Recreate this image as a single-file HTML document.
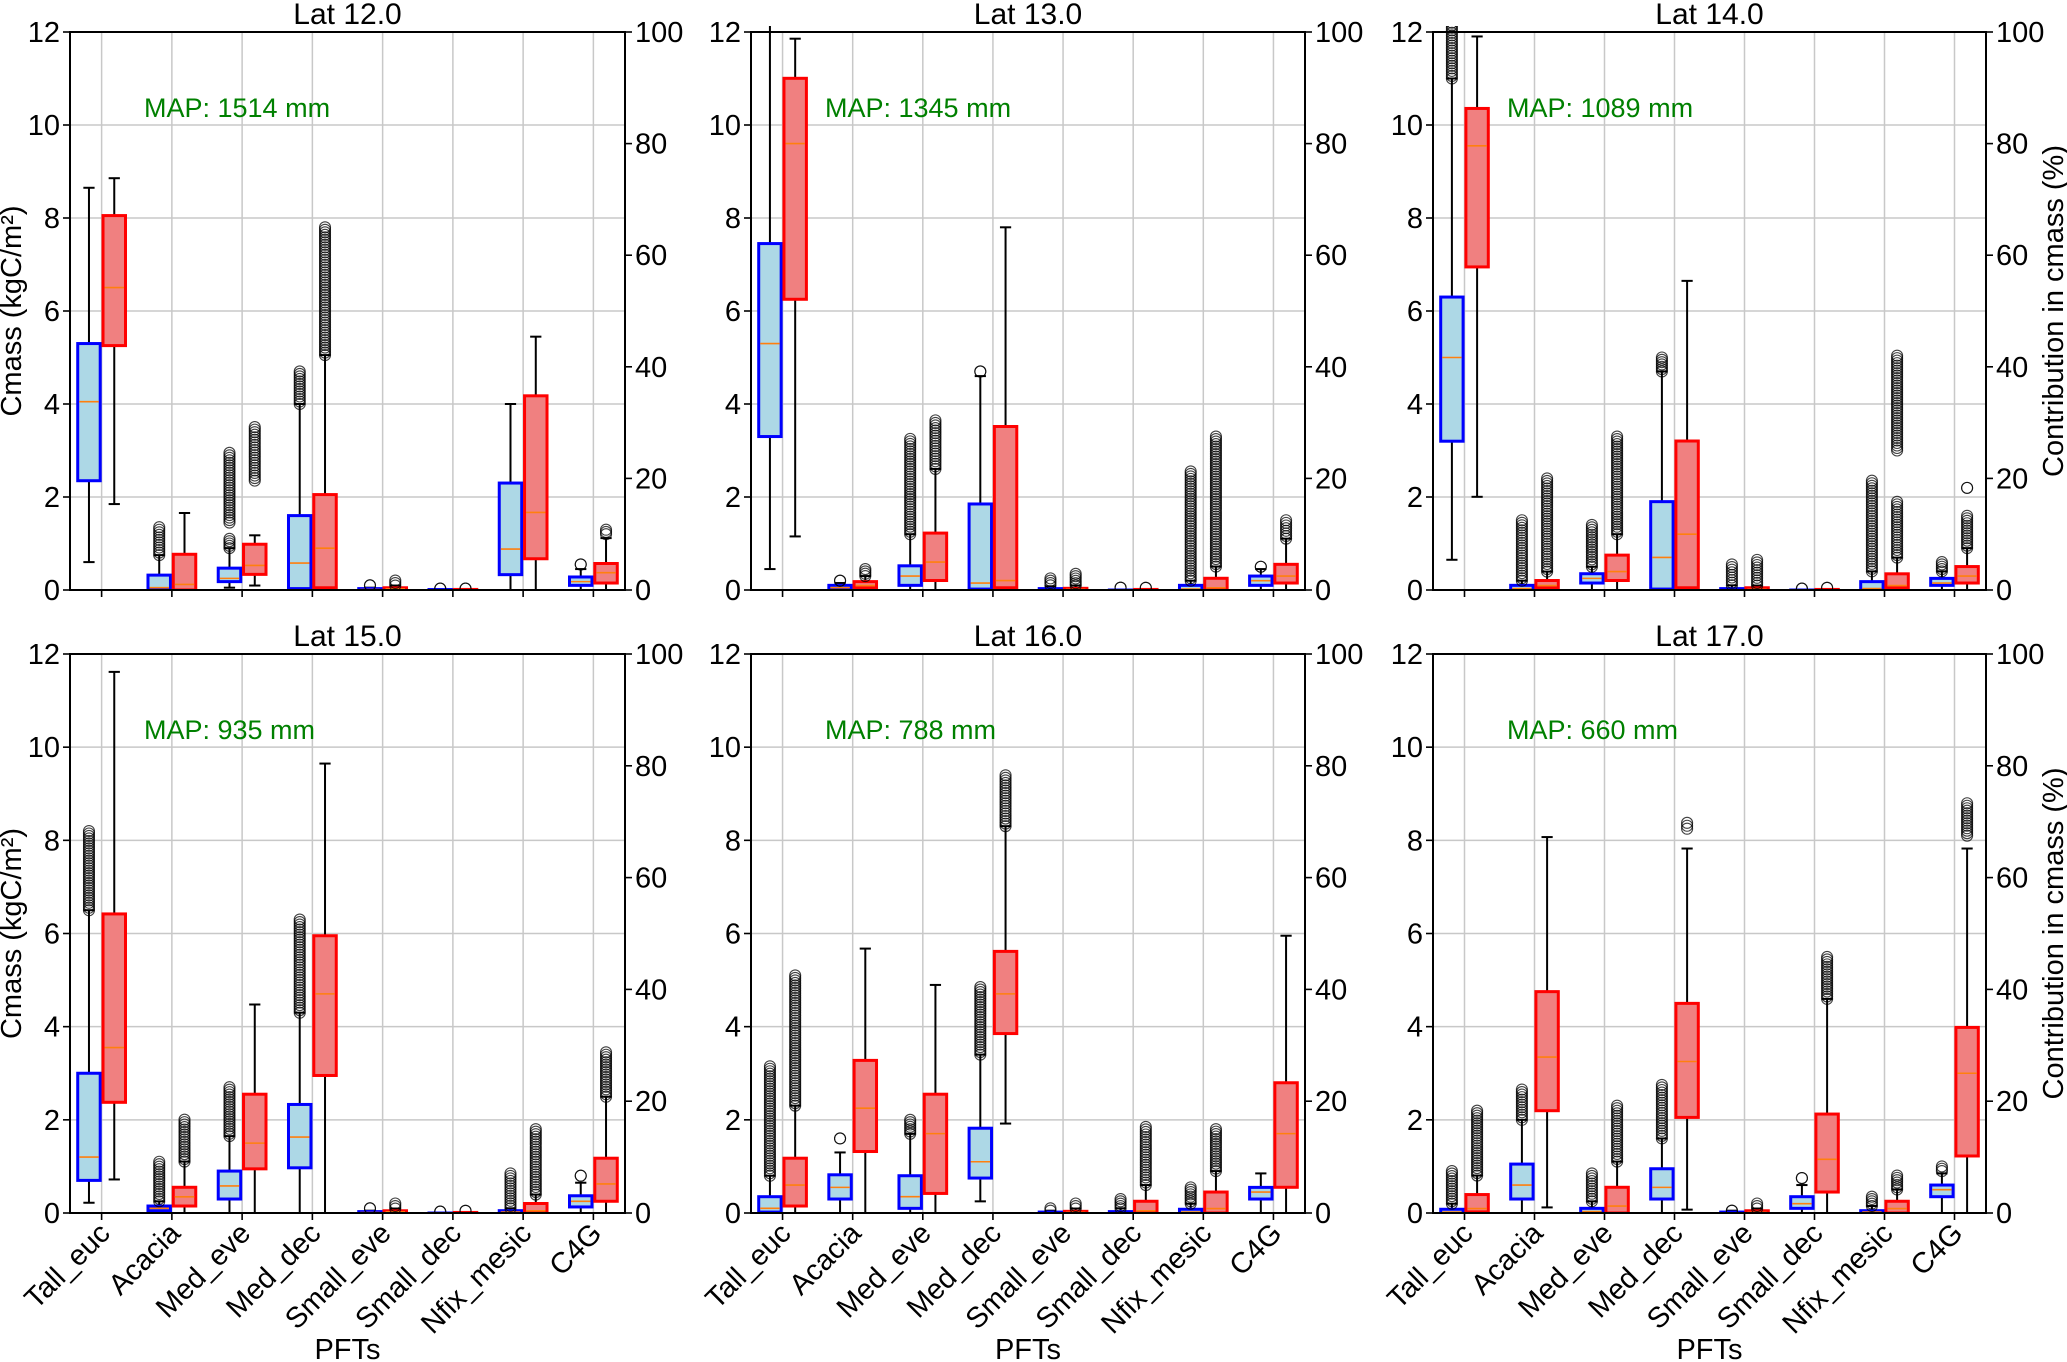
<!DOCTYPE html>
<html><head><meta charset="utf-8"><style>
html,body{margin:0;padding:0;background:#fff}
svg{display:block;font-family:"Liberation Sans","DejaVu Sans",sans-serif}
</style></head><body>
<svg id="fig" width="2067" height="1362" viewBox="0 0 2067 1362" xmlns="http://www.w3.org/2000/svg"></svg>
<script>
const categories=["Tall_euc","Acacia","Med_eve","Med_dec","Small_eve","Small_dec","Nfix_mesic","C4G"];
const titles=["Lat 12.0","Lat 13.0","Lat 14.0","Lat 15.0","Lat 16.0","Lat 17.0"];
const mapText=["MAP: 1514 mm","MAP: 1345 mm","MAP: 1089 mm","MAP: 935 mm","MAP: 788 mm","MAP: 660 mm"];
const leftTicks=[0,2,4,6,8,10,12];
const rightTicks=[0,20,40,60,80,100];
// cmass boxes [lo,q1,med,q3,hi] in kgC/m2 per panel per PFT
const cmass=[
[[.6,2.35,4.05,5.3,8.65],[0,0,.05,.32,.75],[.05,.18,.25,.47,.9],[0,.03,.58,1.6,4.0],[0,0,.01,.03,.05],[0,0,0,.01,.01],[0,.33,.88,2.3,4.0],[0,.1,.18,.28,.45]],
[[.45,3.3,5.3,7.45,13],[0,.02,.05,.1,.15],[0,.1,.3,.52,1.2],[0,.02,.15,1.85,4.6],[0,0,0,.03,.08],[0,0,0,0,.01],[0,0,.02,.1,.2],[0,.1,.2,.3,.45]],
[[.65,3.2,5.0,6.3,11.0],[0,0,.03,.1,.2],[0,.15,.25,.35,.5],[0,.02,.7,1.9,4.7],[0,0,0,.03,.1],[0,0,0,0,.01],[0,0,.03,.18,.4],[0,.1,.15,.25,.4]],
[[.22,.7,1.2,3.0,6.5],[0,.05,.1,.15,.25],[0,.3,.58,.9,1.65],[0,.97,1.63,2.33,4.3],[0,0,.01,.03,.05],[0,0,0,0,.01],[0,0,.02,.05,.1],[0,.13,.25,.37,.65]],
[[0,.02,.1,.35,.8],[0,.3,.55,.82,1.3],[0,.1,.35,.8,1.7],[.25,.75,1.1,1.82,3.4],[0,0,0,.02,.05],[0,0,0,.03,.1],[0,0,.02,.08,.2],[0,.3,.45,.55,.85]],
[[0,0,.02,.08,.2],[0,.3,.6,1.05,2.0],[0,0,.03,.1,.25],[0,.3,.55,.95,1.6],[0,0,0,.02,.05],[0,.1,.2,.35,.6],[0,0,.02,.05,.15],[0,.35,.5,.6,.85]]];
const cmassOut=[
[[],[.75,1.35],[.9,1.1,1.45,2.95],[4.0,4.7],[.1,.1],[.03,.03],[],[.55,.55]],
[[],[.2,.2],[1.2,3.25],[4.7,4.7],[.1,.25],[.05,.05],[.2,2.55],[.5,.5]],
[[11,12.2],[.2,1.5],[.5,1.4],[4.7,5.0],[.1,.55],[.03,.03],[.4,2.35],[.4,.6]],
[[6.5,8.2],[.25,1.1],[1.65,2.7],[4.3,6.3],[.1,.1],[.03,.03],[.1,.85],[.8,.8]],
[[.8,3.15],[1.6,1.6],[1.7,2.0],[3.4,4.85],[.05,.1],[.1,.3],[.2,.55],[]],
[[.2,.9],[2.0,2.65],[.25,.85],[1.6,2.75],[.05,.05],[.75,.75],[.15,.35],[.9,1.0]]];
// contribution boxes [lo,q1,med,q3,hi] in %
const contrib=[
[[15.4,43.8,54.2,67.1,73.8],[0,0,1,6.4,13.8],[.8,2.8,4.4,8.2,9.8],[0,.4,7.5,17.1,42.1],[0,0,.2,.4,.8],[0,0,0,.1,.1],[0,5.6,13.9,34.8,45.4],[0,1.25,3.1,4.75,9.3]],
[[9.6,52.1,80,91.7,98.8],[0,.4,.8,1.5,2.5],[0,1.7,5,10.2,21.7],[0,.4,1.7,29.3,65],[0,0,.1,.3,.8],[0,0,0,.1,.1],[0,0,.4,2.1,4.2],[0,1.25,2.5,4.6,9.2]],
[[16.7,57.9,79.6,86.3,99.2],[0,.4,.8,1.7,3.3],[0,1.7,3.3,6.25,10],[0,.4,10,26.7,55.4],[0,0,.1,.4,.8],[0,0,0,.1,.1],[0,.4,.8,2.9,5.8],[0,1.25,2.5,4.2,7.5]],
[[6,19.8,29.6,53.5,96.8],[0,1.25,2.9,4.6,9.2],[0,7.9,12.5,21.25,37.3],[0,24.6,39.2,49.6,80.4],[0,0,.2,.4,.8],[0,0,0,.1,.1],[0,0,.4,1.7,3.3],[0,2.1,5.2,9.8,20.8]],
[[0,1.25,5,9.8,19.2],[0,11,18.75,27.3,47.3],[0,3.5,14.2,21.25,40.8],[16,32.1,39.2,46.8,69.2],[0,0,.1,.3,.8],[0,0,.4,2.1,5],[0,0,.8,3.75,7.5],[0,4.6,14.2,23.3,49.6]],
[[0,.2,.8,3.3,6.7],[1,18.3,27.9,39.6,67.25],[0,0,1.25,4.6,9.2],[.6,17.1,27.1,37.5,65.2],[0,0,.1,.4,.8],[0,3.75,9.6,17.7,38.3],[0,0,.8,2.1,4.2],[0,10.2,25,33.2,65.2]]];
const contribOut=[
[[],[],[19.6,29.2],[42.1,65],[.8,1.7],[.25,.25],[],[10,10.8]],
[[],[2.5,3.75],[21.7,30.4],[],[.8,2.9],[.4,.4],[4.2,27.5],[9.2,12.5]],
[[],[3.3,20],[10,27.5],[],[.8,5.4],[.4,.4],[5.8,15.8,25,42],[7.5,13.3,18.3,18.3]],
[[],[9.2,16.7],[],[],[.8,1.7],[.4,.4],[3.3,15],[20.8,28.75]],
[[19.2,42.5],[],[],[69.2,78.3],[.8,1.7],[5,15.4],[7.5,15],[]],
[[6.7,18.3],[],[9.2,19.2],[68.75,69.8],[.8,1.7],[38.3,45.8],[4.2,6.7],[67.5,73.3]]];

const NS="http://www.w3.org/2000/svg";
const svg=document.getElementById('fig');
function mk(tag,attrs,parent){const e=document.createElementNS(NS,tag);for(const k in attrs)e.setAttribute(k,attrs[k]);(parent||svg).appendChild(e);return e;}
const colX=[[70,625],[751,1305],[1433,1986]];
const rowY=[[32,590],[654,1213]];
for(let p=0;p<6;p++){
  const c=p%3,r=Math.floor(p/3);
  const [x0,x1]=colX[c],[y0,y1]=rowY[r];
  const g=mk('g',{});
  
  
  const xs=v=>x0+(v-0.55)/7.9*(x1-x0);
  const yL=v=>y1-v/12*(y1-y0);
  const yR=v=>y1-v/100*(y1-y0);
  const clipId='clip'+p;
  const cp=mk('clipPath',{id:clipId},g);mk('rect',{x:x0,y:y0-6,width:x1-x0,height:y1-y0+6},cp);
  leftTicks.forEach(t=>{const l=mk('line',{x1:x0,x2:x1,y1:yL(t),y2:yL(t),stroke:'#c8c8c8','stroke-width':1.5},g);
    });
  categories.forEach((cat,i)=>{const l=mk('line',{x1:xs(i+1),x2:xs(i+1),y1:y0,y2:y1,stroke:'#c8c8c8','stroke-width':1.5},g);
    });
  const plot=mk('g',{'clip-path':'url(#'+clipId+')'},g);
  function drawBox(d,outs,ys,cx,edge,fill,name){
    const bw=0.32/7.9*(x1-x0), hw=bw/2, cw=bw/4;
    const bg=mk('g',{},plot);
    
    mk('line',{x1:cx,x2:cx,y1:ys(d[0]),y2:ys(d[1]),stroke:'#000','stroke-width':2},bg);
    mk('line',{x1:cx,x2:cx,y1:ys(d[3]),y2:ys(d[4]),stroke:'#000','stroke-width':2},bg);
    mk('line',{x1:cx-cw,x2:cx+cw,y1:ys(d[0]),y2:ys(d[0]),stroke:'#000','stroke-width':2},bg);
    mk('line',{x1:cx-cw,x2:cx+cw,y1:ys(d[4]),y2:ys(d[4]),stroke:'#000','stroke-width':2},bg);
    const top=ys(d[3]),bot=ys(d[1]);
    mk('rect',{x:cx-hw,y:top,width:bw,height:Math.max(bot-top,0.5),fill:fill,stroke:edge,'stroke-width':3},bg);
    mk('line',{x1:cx-hw+1.5,x2:cx+hw-1.5,y1:ys(d[2]),y2:ys(d[2]),stroke:'#ff7f0e','stroke-width':1.6},bg);
    for(let k=0;k+1<outs.length;k+=2){
      const a=ys(outs[k]),b=ys(outs[k+1]);
      const n=Math.max(1,Math.round(Math.abs(a-b)/2.5));
      for(let j=0;j<=n;j++){const yy=a+(b-a)*(n?j/n:0);
        mk('circle',{cx:cx,cy:yy,r:5.5,fill:'none',stroke:'#000','stroke-width':1.1,'stroke-opacity':0.75},bg);}
    }
  }
  categories.forEach((cat,i)=>{
    drawBox(cmass[p][i],cmassOut[p][i],yL,xs(i+1-0.18),'#0000ff','#add8e6','box-cmass-'+cat.toLowerCase());
    drawBox(contrib[p][i],contribOut[p][i],yR,xs(i+1+0.18),'#ff0000','#f08080','box-contrib-'+cat.toLowerCase());
  });
  mk('rect',{x:x0,y:y0,width:x1-x0,height:y1-y0,fill:'none',stroke:'#000','stroke-width':2},g);
  leftTicks.forEach(t=>{mk('line',{x1:x0-7,x2:x0,y1:yL(t),y2:yL(t),stroke:'#000','stroke-width':1.6},g);
    const tx=mk('text',{x:x0-10,y:yL(t)+10,'text-anchor':'end','font-size':29,fill:'#000'},g);tx.textContent=t;
    });
  rightTicks.forEach(t=>{mk('line',{x1:x1,x2:x1+7,y1:yR(t),y2:yR(t),stroke:'#000','stroke-width':1.6},g);
    const tx=mk('text',{x:x1+10,y:yR(t)+10,'text-anchor':'start','font-size':29,fill:'#000'},g);tx.textContent=t;
    });
  categories.forEach((cat,i)=>{mk('line',{x1:xs(i+1),x2:xs(i+1),y1:y1,y2:y1+7,stroke:'#000','stroke-width':1.6},g);
    if(r===1){const tx=mk('text',{x:0,y:0,'text-anchor':'end','font-size':29,fill:'#000',transform:'translate('+(xs(i+1)+10)+','+(y1+22)+') rotate(-45)'},g);
      tx.textContent=cat;}});
  const tt=mk('text',{x:(x0+x1)/2,y:y0-8,'text-anchor':'middle','font-size':30,fill:'#000'},g);tt.textContent=titles[p];
  
  const mt=mk('text',{x:x0+74,y:yL(10)-8,'font-size':27,fill:'#008000'},g);mt.textContent=mapText[p];
  
  if(c===0){const yl=mk('text',{x:0,y:0,'text-anchor':'middle','font-size':29,fill:'#000',transform:'translate(21,'+((y0+y1)/2)+') rotate(-90)'},g);
    yl.textContent='Cmass (kgC/m²)';}
  if(c===2){const yl=mk('text',{x:0,y:0,'text-anchor':'middle','font-size':29,fill:'#000',transform:'translate(2063,'+((y0+y1)/2)+') rotate(-90)'},g);
    yl.textContent='Contribution in cmass (%)';}
  if(r===1){const xl=mk('text',{x:(x0+x1)/2,y:1359,'text-anchor':'middle','font-size':29,fill:'#000'},g);
    xl.textContent='PFTs';}
}
</script>
</body></html>
